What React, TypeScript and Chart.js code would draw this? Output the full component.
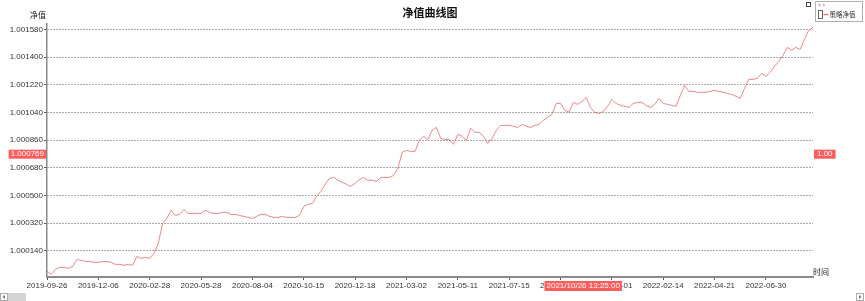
import React, { useEffect, useRef } from 'react';
import { Chart, registerables } from 'chart.js';

Chart.register(...registerables);

// Strategy NAV series (one value per sample step)
const navValues: number[] = [
  1.000008, 0.999988, 1.000021, 1.000034, 1.000034, 1.000027, 1.000040, 1.000085, 1.000079, 1.000072,
  1.000072, 1.000066, 1.000066, 1.000072, 1.000072, 1.000066, 1.000053, 1.000053, 1.000047, 1.000053,
  1.000047, 1.000105, 1.000092, 1.000098, 1.000092, 1.000124, 1.000189, 1.000319, 1.000352, 1.000404,
  1.000371, 1.000378, 1.000410, 1.000384, 1.000384, 1.000384, 1.000384, 1.000404, 1.000391, 1.000384,
  1.000384, 1.000391, 1.000391, 1.000378, 1.000378, 1.000371, 1.000365, 1.000358, 1.000352, 1.000365,
  1.000378, 1.000378, 1.000365, 1.000358, 1.000358, 1.000365, 1.000358, 1.000358, 1.000358, 1.000371,
  1.000430, 1.000443, 1.000449, 1.000495, 1.000527, 1.000573, 1.000612, 1.000618, 1.000599, 1.000586,
  1.000573, 1.000560, 1.000579, 1.000605, 1.000618, 1.000599, 1.000599, 1.000592, 1.000618, 1.000618,
  1.000618, 1.000631, 1.000677, 1.000781, 1.000794, 1.000787, 1.000787, 1.000859, 1.000885, 1.000865,
  1.000924, 1.000943, 1.000872, 1.000865, 1.000865, 1.000833, 1.000898, 1.000885, 1.000859, 1.000937,
  1.000911, 1.000911, 1.000885, 1.000839, 1.000872, 1.000924, 1.000956, 1.000956, 1.000956, 1.000950,
  1.000943, 1.000963, 1.000950, 1.000943, 1.000956, 1.000963, 1.000989, 1.001008, 1.001028, 1.001099,
  1.001099, 1.001054, 1.001041, 1.001106, 1.001093, 1.001112, 1.001138, 1.001073, 1.001041, 1.001034,
  1.001047, 1.001080, 1.001125, 1.001099, 1.001086, 1.001080, 1.001073, 1.001099, 1.001106, 1.001106,
  1.001086, 1.001073, 1.001093, 1.001132, 1.001099, 1.001093, 1.001086, 1.001080, 1.001151, 1.001216,
  1.001177, 1.001177, 1.001171, 1.001171, 1.001171, 1.001177, 1.001184, 1.001177, 1.001171, 1.001164,
  1.001158, 1.001145, 1.001132, 1.001197, 1.001255, 1.001255, 1.001262, 1.001294, 1.001275, 1.001301,
  1.001340, 1.001372, 1.001411, 1.001463, 1.001444, 1.001463, 1.001450, 1.001515, 1.001574, 1.001593,
];

const xTickLabels: string[] = [
  '2019-09-26', '2019-12-06', '2020-02-28', '2020-05-28', '2020-08-04', '2020-10-15', '2020-12-18',
  '2021-03-02', '2021-05-11', '2021-07-15', '2021-09-22', '2021-12-01', '2022-02-14', '2022-04-21', '2022-06-30',
];
const xTickPositions: number[] = [0, 12, 24, 36, 48, 60, 72, 84, 96, 108, 120, 132, 144, 156, 168];

const yTickValues: number[] = [1.00014, 1.00032, 1.0005, 1.00068, 1.00086, 1.00104, 1.00122, 1.0014, 1.00158];
const yMin = 0.999971;
const yMax = 1.001615;

const chartTitle = '净值曲线图';
const yAxisTitle = '净值';
const xAxisTitle = '时间';
const seriesName = '策略净值';

const crossIndex = 125.3;
const crossValue = 1.000769;
const crossTimeLabel = '2021/10/26 13:25:00';
const crossRightLabel = '1.00';

const LINE_COLOR = 'rgba(226, 100, 100, 0.85)';
const LABEL_RED = '#ff5c5c';
const FONT = "'Liberation Sans', 'Noto Sans CJK SC', sans-serif";
const CJK = "'Noto Sans CJK SC', sans-serif";

const decorPlugin = {
  id: 'decor',
  afterDraw(chart: any) {
    const ctx: CanvasRenderingContext2D = chart.ctx;
    const area = chart.chartArea;
    const xs = chart.scales.x;
    const ys = chart.scales.y;
    ctx.save();

    // title
    ctx.fillStyle = '#111';
    ctx.font = `bold 11px ${CJK}`;
    ctx.textAlign = 'center';
    ctx.textBaseline = 'middle';
    ctx.fillText(chartTitle, (area.left + area.right) / 2, 13);

    // axis titles
    ctx.font = `8px ${CJK}`;
    ctx.fillStyle = '#222';
    ctx.fillText(yAxisTitle, 38, 15);
    ctx.fillText(xAxisTitle, area.right + 8, 272);

    // crosshair labels
    const cy = ys.getPixelForValue(crossValue);
    ctx.font = `8px ${FONT}`;
    const leftText = crossValue.toFixed(6);
    const lw = ctx.measureText(leftText).width + 4;
    ctx.fillStyle = LABEL_RED;
    ctx.fillRect(area.left - 1 - lw, cy - 4.5, lw, 9);
    ctx.fillStyle = '#fff';
    ctx.fillText(leftText, area.left - 1 - lw / 2, cy);

    const rw = ctx.measureText(crossRightLabel).width + 6;
    ctx.fillStyle = LABEL_RED;
    ctx.fillRect(area.right + 1, cy - 4.5, rw, 9);
    ctx.fillStyle = '#fff';
    ctx.fillText(crossRightLabel, area.right + 1 + rw / 2, cy);

    const cx = xs.getPixelForValue(crossIndex);
    const bw = ctx.measureText(crossTimeLabel).width + 4;
    ctx.fillStyle = LABEL_RED;
    ctx.fillRect(cx - bw / 2, area.bottom + 4, bw, 10);
    ctx.fillStyle = '#fff';
    ctx.fillText(crossTimeLabel, cx, area.bottom + 9);

    // checkbox
    ctx.strokeStyle = '#444';
    ctx.lineWidth = 1;
    ctx.strokeRect(806.5, 2.5, 4, 4);

    // legend box
    ctx.strokeStyle = '#b0b0b0';
    ctx.strokeRect(815.5, 1.5, 47, 20);
    ctx.fillStyle = '#555';
    ctx.font = `5px ${FONT}`;
    ctx.textAlign = 'left';
    ctx.fillText('> >', 818, 6);
    ctx.strokeStyle = '#666';
    ctx.strokeRect(818.5, 10.5, 4, 8);
    ctx.strokeStyle = LINE_COLOR;
    ctx.lineWidth = 1.5;
    ctx.beginPath();
    ctx.moveTo(823.5, 14.5);
    ctx.lineTo(828.5, 14.5);
    ctx.stroke();
    ctx.fillStyle = '#333';
    ctx.font = `6.5px ${CJK}`;
    ctx.fillText(seriesName, 829.5, 14.5);

    // scrollbar
    ctx.lineWidth = 1;
    ctx.strokeStyle = '#aaa';
    ctx.fillStyle = '#d4d4d4';
    ctx.fillRect(8, 293, 18, 8);
    ctx.strokeRect(0.5, 293.5, 7, 7);
    ctx.strokeRect(856.5, 293.5, 7, 7);
    ctx.fillStyle = '#777';
    ctx.beginPath();
    ctx.moveTo(2.5, 297);
    ctx.lineTo(5, 295);
    ctx.lineTo(5, 299);
    ctx.closePath();
    ctx.fill();
    ctx.beginPath();
    ctx.moveTo(861.5, 297);
    ctx.lineTo(859, 295);
    ctx.lineTo(859, 299);
    ctx.closePath();
    ctx.fill();

    ctx.restore();
  },
};

export default function App() {
  const canvasRef = useRef<HTMLCanvasElement | null>(null);

  useEffect(() => {
    if (!canvasRef.current) return;
    const chart = new Chart(canvasRef.current, {
      type: 'line',
      data: {
        datasets: [
          {
            label: seriesName,
            data: navValues.map((v, i) => ({ x: i, y: v })),
            borderColor: LINE_COLOR,
            borderWidth: 0.9,
            pointRadius: 0,
            tension: 0,
            fill: false,
          },
        ],
      },
      options: {
        responsive: false,
        animation: false,
        parsing: false as any,
        layout: { padding: { left: 0, right: 52, top: 24, bottom: 0 } },
        plugins: {
          legend: { display: false },
          title: { display: false },
          tooltip: { enabled: false },
        },
        scales: {
          x: {
            type: 'linear',
            min: 0,
            max: navValues.length - 1,
            afterBuildTicks: (scale: any) => {
              scale.ticks = xTickPositions.map((v) => ({ value: v }));
            },
            afterFit: (scale: any) => {
              scale.height = 24;
            },
            grid: {
              drawOnChartArea: false,
              drawTicks: true,
              tickLength: 3,
              tickColor: '#555',
            },
            border: { display: true, color: '#8a8a8a', width: 2 },
            ticks: {
              autoSkip: false,
              maxRotation: 0,
              padding: 1,
              color: '#333',
              font: { size: 8, family: FONT },
              callback: (v: any) => {
                const j = xTickPositions.indexOf(Number(v));
                return j >= 0 ? xTickLabels[j] : '';
              },
            },
          },
          y: {
            type: 'linear',
            min: yMin,
            max: yMax,
            afterBuildTicks: (scale: any) => {
              scale.ticks = yTickValues.map((v) => ({ value: v }));
            },
            afterFit: (scale: any) => {
              scale.width = 47;
            },
            grid: {
              color: '#555',
              lineWidth: 1,
              drawTicks: true,
              tickLength: 3,
              tickColor: '#555',
              tickBorderDash: [],
            },
            border: { display: true, color: '#8a8a8a', width: 1.5, dash: [1, 2] },
            ticks: {
              padding: 1,
              color: '#333',
              font: { size: 8, family: FONT },
              callback: (v: any) => Number(v).toFixed(6),
            },
          },
        },
      },
      plugins: [decorPlugin],
    });
    return () => chart.destroy();
  }, []);

  return (
    <div style={{ position: 'fixed', left: 0, top: 0, width: 865, height: 301, background: '#fff' }}>
      <canvas ref={canvasRef} width={865} height={301} style={{ display: 'block' }} />
    </div>
  );
}
